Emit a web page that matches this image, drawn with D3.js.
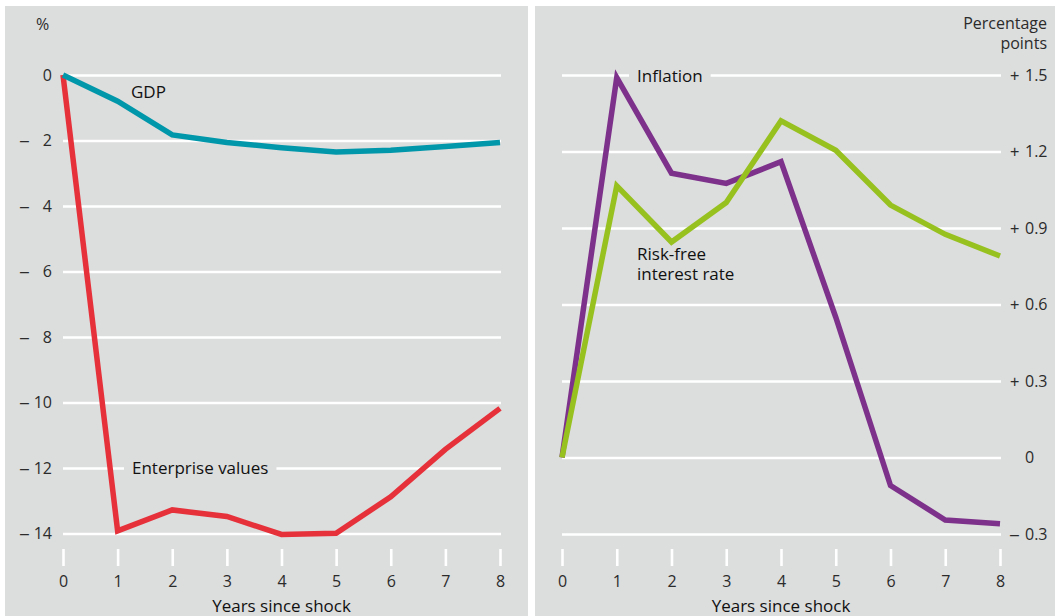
<!DOCTYPE html>
<html>
<head>
<meta charset="utf-8">
<script src="https://cdn.jsdelivr.net/npm/d3@7"></script>
<style>
  html, body { margin: 0; padding: 0; background: #ffffff; }
  svg { display: block; font-family: "Open Sans", "Noto Sans", sans-serif; }
</style>
</head>
<body>
<svg id="chart" width="1055" height="616"></svg>
<script>
// Years after the shock (shared by both panels)
const years = [0, 1, 2, 3, 4, 5, 6, 7, 8];

// Left panel: % deviation
const gdp = [0, -0.8, -1.83, -2.06, -2.22, -2.35, -2.3, -2.18, -2.06];
const enterpriseValues = [0, -13.92, -13.28, -13.48, -14.03, -13.99, -12.88, -11.43, -10.18];
const leftTicks = [0, -2, -4, -6, -8, -10, -12, -14];

// Right panel: percentage points
const inflation = [0, 1.49, 1.115, 1.075, 1.16, 0.55, -0.11, -0.245, -0.26];
const riskFreeRate = [0, 1.065, 0.845, 1.0, 1.32, 1.205, 0.99, 0.875, 0.79];
const rightTicks = [1.5, 1.2, 0.9, 0.6, 0.3, 0, -0.3];

const panelFill = "#dcdddd";
const gridColor = "#ffffff";
const tickText = "#2b2b2b";
const labelText = "#111111";

const svg = d3.select("#chart");

// Panel backgrounds
svg.append("rect").attr("x", 5).attr("y", 6).attr("width", 523).attr("height", 610).attr("fill", panelFill);
svg.append("rect").attr("x", 535).attr("y", 6).attr("width", 520).attr("height", 610).attr("fill", panelFill);

// Scales
const xL = d3.scaleLinear().domain([0, 8]).range([63, 500]);
const yL = d3.scaleLinear().domain([0, -14]).range([75, 533.5]);
const xR = d3.scaleLinear().domain([0, 8]).range([562, 1000]);
const yR = d3.scaleLinear().domain([-0.3, 1.5]).range([534, 75]);

function styleAxis(g) {
  g.select(".domain").remove();
  g.selectAll(".tick line").attr("stroke", gridColor).attr("stroke-width", 2.6);
  g.selectAll(".tick text")
    .attr("fill", tickText)
    .style("font-size", "16px")
    .style("font-family", '"Open Sans", "Noto Sans", sans-serif');
}

// Left horizontal gridlines with labels (sign drawn separately from digits)
const gL = svg.append("g").attr("transform", `translate(${xL(0)},0)`)
  .call(d3.axisRight(yL).tickValues(leftTicks).tickSize(xL(8) - xL(0) + 1).tickPadding(0)
    .tickFormat(d => Math.abs(d)))
  .call(styleAxis);
gL.selectAll(".tick text").attr("text-anchor", "end").attr("x", 52 - xL(0));
gL.selectAll(".tick").filter(d => d < 0).append("text")
  .attr("x", 20 - xL(0)).attr("dy", "0.32em")
  .attr("fill", tickText).style("font-size", "16px")
  .text("\u2013");

// Right horizontal gridlines with labels
const gR = svg.append("g").attr("transform", `translate(${xR(0)},0)`)
  .call(d3.axisRight(yR).tickValues(rightTicks).tickSize(xR(8) - xR(0) + 1).tickPadding(0)
    .tickFormat(d => d3.format(".1f")(Math.abs(d)).replace(/^0\.0$/, "0")))
  .call(styleAxis);
gR.selectAll(".tick text").attr("text-anchor", "start").attr("x", 1025 - xR(0));
gR.selectAll(".tick").filter(d => d !== 0).append("text")
  .attr("x", 1010 - xR(0)).attr("dy", "0.32em")
  .attr("fill", tickText).style("font-size", "16px")
  .text(d => d > 0 ? "+" : "\u2013");

// Bottom axes: detached tick marks and year labels
function bottomAxis(x) {
  const g = svg.append("g").attr("transform", "translate(0,549)")
    .call(d3.axisBottom(x).tickValues(years).tickSize(17).tickPadding(10).tickFormat(d3.format("d")))
    .call(styleAxis);
  return g;
}
bottomAxis(xL);
bottomAxis(xR);

// Axis titles
svg.append("text").attr("x", (xL(0) + xL(8)) / 2).attr("y", 612).attr("text-anchor", "middle")
  .attr("fill", labelText).style("font-size", "17px").text("Years since shock");
svg.append("text").attr("x", (xR(0) + xR(8)) / 2).attr("y", 612).attr("text-anchor", "middle")
  .attr("fill", labelText).style("font-size", "17px").text("Years since shock");

// Unit labels
svg.append("text").attr("x", 36).attr("y", 30).attr("fill", tickText).style("font-size", "16px").text("%");
svg.append("text").attr("x", 1047).attr("y", 29).attr("text-anchor", "end").attr("fill", tickText)
  .style("font-size", "16px").text("Percentage");
svg.append("text").attr("x", 1047).attr("y", 49).attr("text-anchor", "end").attr("fill", tickText)
  .style("font-size", "16px").text("points");

// Series labels; some sit on a gridline and mask it with the panel colour
function seriesLabel(lines, x, y, masked) {
  const g = svg.append("g");
  const t = g.append("text").attr("fill", labelText).style("font-size", "17px");
  lines.forEach((s, i) => {
    t.append("tspan").attr("x", x).attr("y", y + i * 20).text(s);
  });
  if (masked) {
    const b = t.node().getBBox();
    g.insert("rect", "text").attr("x", b.x - 8).attr("y", b.y).attr("width", b.width + 16)
      .attr("height", b.height).attr("fill", panelFill);
  }
  return g;
}

// Lines
function drawLine(x, y, values, color) {
  const line = d3.line().x((d, i) => x(years[i])).y(d => y(d));
  svg.append("path").datum(values).attr("d", line)
    .attr("fill", "none").attr("stroke", color).attr("stroke-width", 5.5)
    .attr("stroke-linejoin", "miter").attr("stroke-miterlimit", 10);
}

seriesLabel(["Enterprise values"], 132, 474, true);
seriesLabel(["Inflation"], 637, 82, true);

drawLine(xL, yL, enterpriseValues, "#e6313a");
drawLine(xL, yL, gdp, "#0097aa");
drawLine(xR, yR, inflation, "#7d318a");
drawLine(xR, yR, riskFreeRate, "#97c11f");

seriesLabel(["GDP"], 131, 98, false);
seriesLabel(["Risk-free", "interest rate"], 637, 260, false);
</script>
</body>
</html>
